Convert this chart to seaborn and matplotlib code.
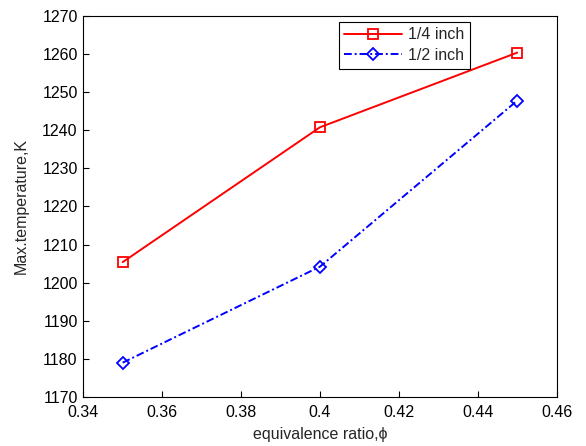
import matplotlib
matplotlib.use("Agg")
import matplotlib.pyplot as plt
import seaborn as sns
import pandas as pd

phi = [0.35, 0.40, 0.45]
t_quarter = [1205.4, 1240.8, 1260.4]
t_half = [1179.0, 1204.2, 1247.8]
series_names = ["1/4 inch", "1/2 inch"]
xticks = [0.34, 0.36, 0.38, 0.40, 0.42, 0.44, 0.46]
xticklabels = ["0.34", "0.36", "0.38", "0.4", "0.42", "0.44", "0.46"]
yticks = list(range(1170, 1271, 10))

sns.set_style("ticks")
plt.rcParams['font.family'] = ['Liberation Sans', 'DejaVu Sans']

df = pd.DataFrame({
    "phi": phi * 2,
    "T": t_quarter + t_half,
    "series": [series_names[0]] * 3 + [series_names[1]] * 3,
})

fig = plt.figure(figsize=(5.86, 4.46), dpi=100)
ax = fig.add_axes([0.142, 0.110, 0.808, 0.854])

sns.lineplot(data=df[df.series == series_names[0]], x="phi", y="T", ax=ax,
             color="red", marker="s", markersize=7.5, markerfacecolor="none",
             markeredgecolor="red", markeredgewidth=1.3, linewidth=1.4,
             label=series_names[0])
sns.lineplot(data=df[df.series == series_names[1]], x="phi", y="T", ax=ax,
             color="blue", marker="D", markersize=6.5, markerfacecolor="none",
             markeredgecolor="blue", markeredgewidth=1.3, linewidth=1.4,
             linestyle=(0, (4, 1.5, 1, 1.5)), label=series_names[1])

ax.set_xlim(0.34, 0.46)
ax.set_ylim(1170, 1270)
ax.set_xticks(xticks)
ax.set_xticklabels(xticklabels)
ax.set_yticks(yticks)
ax.tick_params(direction="in", length=4, labelsize=11.5, colors="black",
               top=False, right=False)
ax.tick_params(axis="x", pad=6)
ax.tick_params(axis="y", pad=4)
for s in ax.spines.values():
    s.set_visible(True)
    s.set_color("black")
    s.set_linewidth(0.8)
ax.set_xlabel("equivalence ratio,\u03d5", fontsize=11.5, labelpad=5)
ax.set_ylabel("Max.temperature,K", fontsize=11.5, labelpad=10)

leg = ax.legend(loc="upper left", bbox_to_anchor=(0.54, 0.985), fontsize=11.5,
                frameon=True, fancybox=False, edgecolor="black", framealpha=1,
                handlelength=3.6, handletextpad=0.4, borderpad=0.35,
                labelspacing=0.35, borderaxespad=0)
leg.get_frame().set_linewidth(0.8)

fig.savefig("out.png", dpi=100)
